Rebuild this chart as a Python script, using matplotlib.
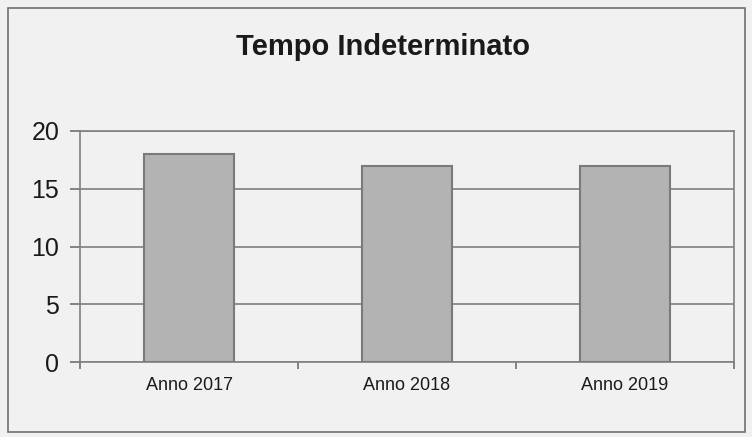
import matplotlib.pyplot as plt
from matplotlib.patches import Rectangle

# data
categories = ['Anno 2017', 'Anno 2018', 'Anno 2019']
values = [18, 17, 17]
yticks = [0, 5, 10, 15, 20]

plt.rcParams['font.family'] = ['Liberation Sans', 'DejaVu Sans']

fig = plt.figure(figsize=(7.52, 4.37), dpi=100, facecolor='#f1f1f1')
W, H = 752, 437
ax = fig.add_axes([80 / W, 1 - 362 / H, (734 - 80) / W, (362 - 131) / H])
ax.set_facecolor('#f1f1f1')

# outer frame
fig.patches.append(Rectangle((8 / W, 1 - 432 / H), (745 - 8) / W, (432 - 8) / H,
                             transform=fig.transFigure, fill=False,
                             edgecolor='#707070', linewidth=1.2))

x = range(len(categories))
ax.bar(x, values, width=0.41, color='#b3b3b3', edgecolor='#7a7a7a',
       linewidth=1.5, zorder=3)

ax.set_xlim(-0.5, 2.5)
ax.set_ylim(0, 20)
ax.set_yticks(yticks)
ax.yaxis.grid(True, color='#808080', linewidth=1.2, zorder=0)

# ticks between categories, labels centred under bars
ax.set_xticks([-0.5, 0.5, 1.5, 2.5])
ax.set_xticklabels([])
ax.set_xticks(list(x), minor=True)
ax.set_xticklabels(categories, minor=True, fontsize=13, color='#1a1a1a')
ax.tick_params(axis='x', which='minor', length=0, pad=11)
ax.tick_params(axis='x', which='major', length=5, color='#707070', width=1.2)
ax.tick_params(axis='y', length=7, color='#707070', width=1.2, labelsize=18,
               pad=8, labelcolor='#1a1a1a')

for s in ax.spines.values():
    s.set_color('#808080')
    s.set_linewidth(1.2)

fig.text(383 / W, 1 - 47 / H, 'Tempo Indeterminato', ha='center', va='center',
         fontsize=21, fontweight='bold', color='#1a1a1a')

fig.savefig('out.png', dpi=100, facecolor=fig.get_facecolor())
